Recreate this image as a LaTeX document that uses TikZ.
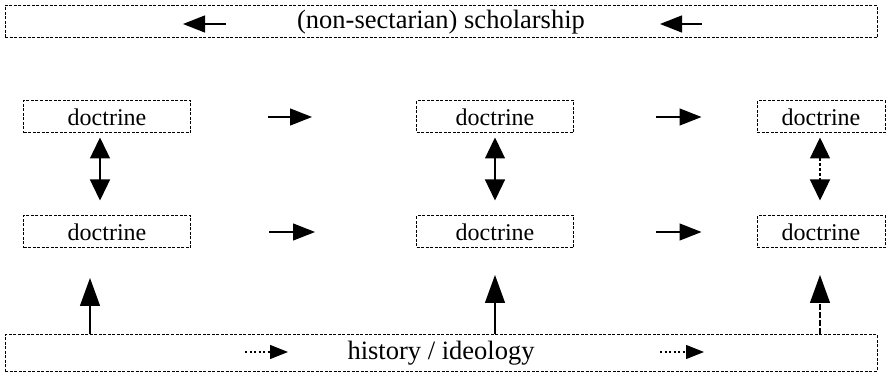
\documentclass[tikz,border=0pt]{standalone}
\usepackage{fontspec}
\setmainfont{Liberation Serif}
\usetikzlibrary{arrows.meta}
\begin{document}
\begin{tikzpicture}[x=1pt,y=-1pt,
  bx/.style={draw, line width=1pt, dash pattern=on 3pt off 1.5pt, inner sep=0pt, minimum height=32pt, font=\fontsize{24}{28}\selectfont},
  band/.style={bx, minimum width=872pt, font=\fontsize{26.5}{30}\selectfont},
  doc/.style={bx},
  arr/.style={line width=1.3pt, -{Triangle[length=22pt,width=17pt]}},
  uparr/.style={line width=1.3pt, -{Triangle[length=28pt,width=20pt]}},
  darr/.style={line width=1.3pt, {Triangle[length=21pt,width=20pt]}-{Triangle[length=21pt,width=20pt]}},
  dotarr/.style={line width=1.3pt, dash pattern=on 2pt off 2.5pt, -{Triangle[length=18pt,width=14pt]}}]
\useasboundingbox (0,0) rectangle (887,374);
% bands
\node[band] (S) at (441,22) {(non-sectarian) scholarship};
\node[band, minimum height=36pt] (H) at (441,353) {history / ideology};
% doctrine boxes
\node[doc, minimum width=167pt] (a1) at (107,117) {doctrine};
\node[doc, minimum width=157pt] (a2) at (495,117) {doctrine};
\node[doc, minimum width=128pt] (a3) at (821,117) {doctrine};
\node[doc, minimum width=167pt] (b1) at (107,232) {doctrine};
\node[doc, minimum width=157pt] (b2) at (495,232) {doctrine};
\node[doc, minimum width=128pt] (b3) at (821,232) {doctrine};
% arrows inside the top band (pointing left)
\coordinate (s1) at (183,24); \coordinate (s1e) at (226,24);
\coordinate (s2) at (660,24); \coordinate (s2e) at (702,24);
\draw[arr] (s1e) -- (s1);
\draw[arr] (s2e) -- (s2);
% arrows inside the bottom band (pointing right)
\coordinate (h1) at (245,352); \coordinate (h1e) at (288,352);
\coordinate (h2) at (660,352); \coordinate (h2e) at (704,352);
\draw[dotarr] (h1) -- (h1e);
\draw[dotarr] (h2) -- (h2e);
% horizontal arrows between doctrine boxes
\draw[arr, shorten <=77pt, shorten >=104pt] (a1.east) -- (a2.west);
\draw[arr, shorten <=82pt, shorten >=55pt] (a2.east) -- (a3.west);
\draw[arr, shorten <=78pt, shorten >=101pt] (b1.east) -- (b2.west);
\draw[arr, shorten <=82pt, shorten >=55pt] (b2.east) -- (b3.west);
% vertical double arrows
\coordinate (v1) at (100,0); \coordinate (v2) at (495,0); \coordinate (v3) at (820,0);
\draw[darr, shorten <=4pt, shorten >=15pt] (a1.south -| v1) -- (b1.north -| v1);
\draw[darr, shorten <=4pt, shorten >=15pt] (a2.south -| v2) -- (b2.north -| v2);
\draw[darr, dash pattern=on 3pt off 2pt, shorten <=4pt, shorten >=15pt] (a3.south -| v3) -- (b3.north -| v3);
% upward arrows from the bottom band
\coordinate (u1) at (90,278); \coordinate (u2) at (495,275); \coordinate (u3) at (820,275);
\draw[uparr] (H.north -| u1) -- (u1);
\draw[uparr] (H.north -| u2) -- (u2);
\draw[uparr, dash pattern=on 6pt off 2pt] (H.north -| u3) -- (u3);
\end{tikzpicture}
\end{document}
